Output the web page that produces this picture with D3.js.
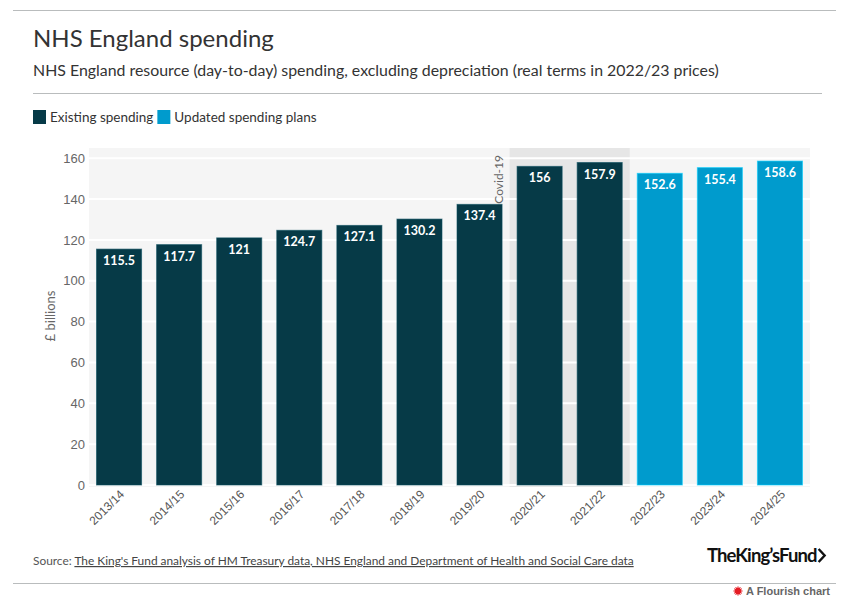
<!DOCTYPE html>
<html>
<head>
<meta charset="utf-8">
<script src="https://cdn.jsdelivr.net/npm/d3@7"></script>
<style>
  html, body { margin: 0; padding: 0; background: #fff; }
  svg { display: block; font-family: "Source Sans Pro", Lato, "Open Sans", sans-serif; }
</style>
</head>
<body>
<svg id="chart" width="854" height="606"></svg>
<script>
const categories = ["2013/14","2014/15","2015/16","2016/17","2017/18","2018/19","2019/20","2020/21","2021/22","2022/23","2023/24","2024/25"];
const values = [115.5,117.7,121,124.7,127.1,130.2,137.4,156,157.9,152.6,155.4,158.6];
const labels = ["115.5","117.7","121","124.7","127.1","130.2","137.4","156","157.9","152.6","155.4","158.6"];
const seriesOf = ["Existing spending","Existing spending","Existing spending","Existing spending","Existing spending","Existing spending","Existing spending","Existing spending","Existing spending","Updated spending plans","Updated spending plans","Updated spending plans"];
const seriesNames = ["Existing spending","Updated spending plans"];
const seriesColors = ["#063a47","#009bcd"];
const yTicks = [0,20,40,60,80,100,120,140,160];
const covidRange = ["2020/21","2021/22"];

const svg = d3.select("#chart");
const color = d3.scaleOrdinal().domain(seriesNames).range(seriesColors);

// header lines
svg.append("line").attr("x1",13).attr("x2",836).attr("y1",10.5).attr("y2",10.5).attr("stroke","#b9bcbd").attr("stroke-width",1);
svg.append("text").attr("x",33).attr("y",47).attr("font-size",24).attr("fill","#333").text("NHS England spending");
svg.append("text").attr("x",33).attr("y",76).attr("font-size",15.9).attr("fill","#333").text("NHS England resource (day-to-day) spending, excluding depreciation (real terms in 2022/23 prices)");
svg.append("line").attr("x1",33).attr("x2",822).attr("y1",93.5).attr("y2",93.5).attr("stroke","#b9bcbd").attr("stroke-width",1);

// legend
let lx = 33;
seriesNames.forEach((s,i)=>{
  svg.append("rect").attr("x",lx).attr("y",110).attr("width",13).attr("height",14).attr("fill",color(s));
  const t = svg.append("text").attr("x",lx+17).attr("y",122).attr("font-size",13.5).attr("fill","#333").text(s);
  lx = lx + 17 + t.node().getComputedTextLength() + 4;
});

// plot
const x = d3.scaleBand().domain(categories).range([89,810]).paddingInner(0.25).paddingOuter(0.125);
const y = d3.scaleLinear().domain([0,165]).range([485,148]);

svg.append("rect").attr("x",89).attr("y",148).attr("width",721).attr("height",339).attr("fill","#f5f5f5");
const step = x.step();
const cx0 = x(covidRange[0]) - (step - x.bandwidth())/2;
const cx1 = x(covidRange[1]) + x.bandwidth() + (step - x.bandwidth())/2;
svg.append("rect").attr("x",cx0).attr("y",148).attr("width",cx1-cx0).attr("height",339).attr("fill","#e6e6e6");

// gridlines
svg.append("g").selectAll("line").data(yTicks).join("line")
  .attr("x1",89).attr("x2",810).attr("y1",d=>y(d)).attr("y2",d=>y(d))
  .attr("stroke","#fff").attr("stroke-width",2);

// y axis
const yAxis = svg.append("g").attr("transform","translate(89,0)")
  .call(d3.axisLeft(y).tickValues(yTicks).tickSize(0).tickPadding(4));
yAxis.select(".domain").remove();
yAxis.selectAll("text").attr("font-size",13).attr("fill","#666").attr("font-family","inherit");

svg.append("text").attr("transform","translate(55,316) rotate(-90)").attr("text-anchor","middle")
  .attr("font-size",13).attr("fill","#666").text("£ billions");

// covid label
svg.append("text").attr("transform",`translate(${cx0-7},155) rotate(-90)`).attr("text-anchor","end")
  .attr("font-size",12).attr("fill","#666").text("Covid-19");

// bars
svg.append("g").selectAll("rect").data(categories).join("rect")
  .attr("x",d=>x(d)).attr("width",x.bandwidth())
  .attr("y",(d,i)=>y(values[i])).attr("height",(d,i)=>y(0)-y(values[i]))
  .attr("fill",(d,i)=>color(seriesOf[i]))
  .attr("stroke",(d,i)=>d3.color(color(seriesOf[i])).brighter(0.8))
  .attr("stroke-opacity",0.6).attr("stroke-width",1);

svg.append("g").selectAll("text").data(categories).join("text")
  .attr("x",d=>x(d)+x.bandwidth()/2).attr("y",(d,i)=>y(values[i])+16)
  .attr("text-anchor","middle").attr("font-size",12.5).attr("font-weight","bold").attr("fill","#fff")
  .text((d,i)=>labels[i]);

// x axis
const xAxis = svg.append("g").attr("transform","translate(0,487)")
  .call(d3.axisBottom(x).tickSize(0).tickPadding(0));
xAxis.select(".domain").remove();
xAxis.selectAll("text").attr("font-size",12).attr("fill","#555").attr("font-family","inherit")
  .attr("text-anchor","end").attr("dy",null).attr("y",0)
  .attr("transform","translate(6,8) rotate(-45)");

// footer
const src = svg.append("text").attr("x",33).attr("y",565).attr("font-size",11.9).attr("fill","#555");
src.append("tspan").text("Source: ");
src.append("tspan").attr("text-decoration","underline").attr("fill","#444").text("The King's Fund analysis of HM Treasury data, NHS England and Department of Health and Social Care data");

const logo = svg.append("text").attr("x",707).attr("y",562).attr("font-size",18.5).attr("font-weight","bold")
  .attr("letter-spacing",-0.9).attr("fill","#111").attr("font-family","Lato, 'Open Sans', sans-serif").text("TheKing\u2019sFund");
const lw = logo.node().getComputedTextLength();
svg.append("path").attr("d",`M${707+lw+2},${549} L${707+lw+8},${555.5} L${707+lw+2},${562}`)
  .attr("fill","none").attr("stroke","#111").attr("stroke-width",2.4);

svg.append("line").attr("x1",13).attr("x2",836).attr("y1",583.5).attr("y2",583.5).attr("stroke","#b9bcbd").attr("stroke-width",1);
const fl = svg.append("g").attr("transform","translate(738,591)");
fl.append("circle").attr("r",3.2).attr("fill","#e51d25");
fl.selectAll("line").data(d3.range(12)).join("line")
  .attr("x1",0).attr("y1",0).attr("x2",d=>4.6*Math.cos(d*Math.PI/6)).attr("y2",d=>4.6*Math.sin(d*Math.PI/6))
  .attr("stroke","#e51d25").attr("stroke-width",1);
svg.append("text").attr("x",830).attr("y",595).attr("text-anchor","end").attr("font-size",11).attr("font-weight","bold")
  .attr("font-family","Arial, 'Liberation Sans', sans-serif").attr("fill","#666").text("A Flourish chart");
</script>
</body>
</html>
